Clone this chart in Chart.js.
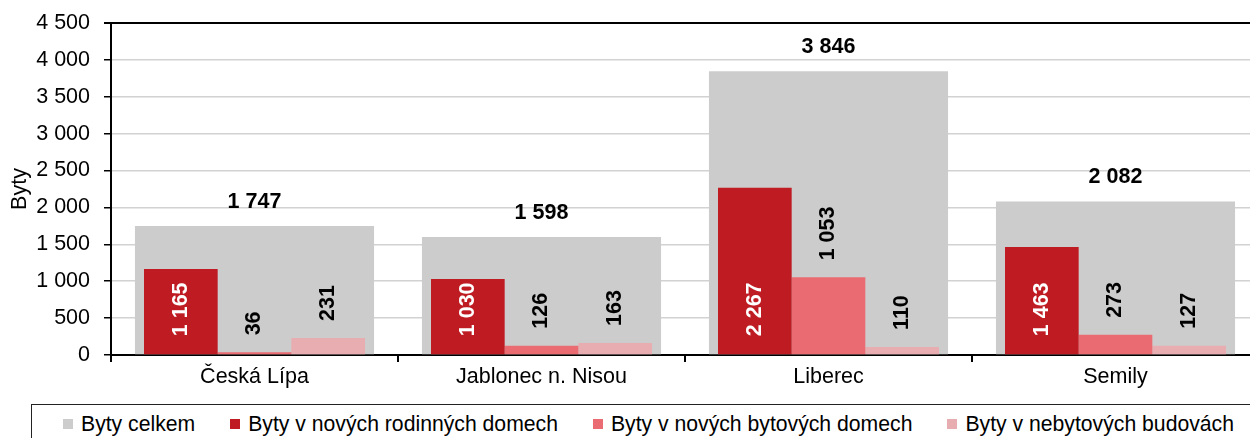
<!DOCTYPE html>
<html>
<head>
<meta charset="utf-8">
<script src="https://cdn.jsdelivr.net/npm/chart.js@4"></script>
<style>
  html, body { margin: 0; padding: 0; background: #fff; width: 1250px; height: 438px; overflow: hidden; }
  #chart { position: absolute; left: 0; top: 0; }
  #legend {
    position: absolute; left: 31px; top: 404px; width: 1260px; height: 40px;
    border: 1px solid #222; box-sizing: border-box;
    display: flex; align-items: center; padding-left: 31px;
    font: 21.2px "Liberation Sans", Arial, sans-serif; color: #000;
  }
  .item { display: flex; align-items: center; margin-right: 35px; white-space: nowrap; }
  .box { width: 10px; height: 10px; margin-right: 8px; }
</style>
</head>
<body>
<canvas id="chart" width="1262" height="400"></canvas>
<div id="legend"></div>
<script>
const categories = ['Česká Lípa', 'Jablonec n. Nisou', 'Liberec', 'Semily'];
const bytyCelkem = [1747, 1598, 3846, 2082];
const rodinneDomy = [1165, 1030, 2267, 1463];
const bytoveDomy = [36, 126, 1053, 273];
const nebytoveBudovy = [231, 163, 110, 127];
const yMax = 4500;
const yStep = 500;

const font = { family: '"Liberation Sans", Arial, sans-serif', size: 21.5 };
const fmt = v => String(v).replace(/\B(?=(\d{3})+(?!\d))/g, ' ');

// labels: totals above the grey bar, the rest rotated
const barLabels = {
  id: 'barLabels',
  afterDatasetsDraw(chart) {
    const ctx = chart.ctx;
    ctx.save();
    ctx.font = 'bold 21.5px "Liberation Sans", Arial, sans-serif';
    chart.data.datasets.forEach((ds, i) => {
      chart.getDatasetMeta(i).data.forEach((bar, j) => {
        const txt = fmt(ds.data[j]);
        if (i === 0) {
          ctx.textAlign = 'center';
          ctx.textBaseline = 'middle';
          ctx.fillStyle = '#000';
          ctx.fillText(txt, bar.x, bar.y - 24);
        } else {
          const y = i === 1 ? bar.base - 18 : bar.y - 17;
          ctx.save();
          ctx.translate(bar.x, y);
          ctx.rotate(-Math.PI / 2);
          ctx.textAlign = 'left';
          ctx.textBaseline = 'middle';
          ctx.fillStyle = i === 1 ? '#fff' : '#000';
          ctx.fillText(txt, 0, 0);
          ctx.restore();
        }
      });
    });
    ctx.restore();
  }
};

const chart = new Chart(document.getElementById('chart').getContext('2d'), {
  type: 'bar',
  data: {
    labels: categories,
    datasets: [
      { label: 'Byty celkem', data: bytyCelkem, backgroundColor: '#cccccc',
        grouped: false, order: 1, categoryPercentage: 1, barPercentage: 0.833 },
      { label: 'Byty v nových rodinných domech', data: rodinneDomy, backgroundColor: '#be1b23',
        order: 0, categoryPercentage: 0.77, barPercentage: 1 },
      { label: 'Byty v nových bytových domech', data: bytoveDomy, backgroundColor: '#ea6b72',
        order: 0, categoryPercentage: 0.77, barPercentage: 1 },
      { label: 'Byty v nebytových budovách', data: nebytoveBudovy, backgroundColor: '#e7adb0',
        order: 0, categoryPercentage: 0.77, barPercentage: 1 }
    ]
  },
  options: {
    responsive: false,
    animation: false,
    layout: { padding: { top: 23, right: 3, left: 0, bottom: 0 } },
    plugins: { legend: { display: false }, tooltip: { enabled: false } },
    scales: {
      x: {
        grid: { drawOnChartArea: false, tickLength: 7, color: '#000', lineWidth: 2, offset: true },
        border: { color: '#000', width: 2 },
        ticks: { color: '#000', font, padding: 2 },
        afterFit: s => { s.height = 45; }
      },
      y: {
        min: 0, max: yMax,
        border: { color: '#000', width: 2 },
        grid: {
          color: c => c.tick.value === yMax ? '#000' : '#d2d2d2',
          lineWidth: c => c.tick.value === yMax ? 2 : 1.5,
          tickColor: '#000', tickLength: 7
        },
        ticks: { stepSize: yStep, color: '#000', font, padding: 14, callback: v => fmt(v) },
        title: { display: true, text: 'Byty', color: '#000', font, padding: { top: 7, bottom: 0 } },
        afterFit: s => { s.width = 111; s.paddingTop = 0; s.paddingBottom = 0; }
      }
    }
  },
  plugins: [barLabels]
});

// legend box under the chart
const legend = document.getElementById('legend');
chart.data.datasets.forEach(ds => {
  const item = document.createElement('div');
  item.className = 'item';
  item.innerHTML = `<span class="box" style="background:${ds.backgroundColor}"></span><span>${ds.label}</span>`;
  legend.appendChild(item);
});
</script>
</body>
</html>
